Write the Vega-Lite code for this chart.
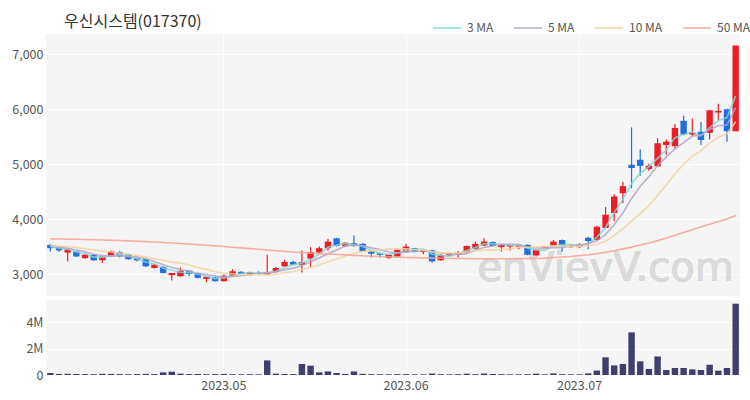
{
  "$schema": "https://vega.github.io/schema/vega-lite/v6.json",
  "padding": {"left": 0, "right": 10, "top": 13, "bottom": 0},
  "background": "#ffffff",
  "title": {"text": "우신시스템(017370)", "anchor": "start", "frame": "group", "fontSize": 16, "fontWeight": "normal", "color": "#333333", "font": "Noto Sans CJK KR", "offset": 8, "dy": 25, "dx": 18},
  "config": {
    "view": {"fill": "#f5f5f5", "stroke": null},
    "axis": {"labelFont": "Noto Sans CJK KR", "labelFontSize": 12.5, "labelColor": "#555555", "domain": false, "ticks": false, "title": null, "gridColor": "#ffffff", "gridWidth": 1}
  },
  "datasets": {
    "p": [
      {"d":"2023-04-03","o":3530,"h":3540,"l":3410,"c":3470,"v":150000,"m3":3500,"m5":3510,"m10":3520,"m50":3640},
      {"d":"2023-04-04","o":3480,"h":3490,"l":3400,"c":3430,"v":80000,"m3":3470,"m5":3490,"m10":3510,"m50":3638},
      {"d":"2023-04-05","o":3390,"h":3460,"l":3230,"c":3450,"v":90000,"m3":3450,"m5":3470,"m10":3500,"m50":3635},
      {"d":"2023-04-06","o":3410,"h":3420,"l":3310,"c":3320,"v":80000,"m3":3400,"m5":3438,"m10":3480,"m50":3632},
      {"d":"2023-04-07","o":3290,"h":3360,"l":3280,"c":3350,"v":70000,"m3":3373,"m5":3404,"m10":3460,"m50":3628},
      {"d":"2023-04-10","o":3350,"h":3360,"l":3240,"c":3250,"v":60000,"m3":3307,"m5":3360,"m10":3440,"m50":3624},
      {"d":"2023-04-11","o":3250,"h":3330,"l":3200,"c":3320,"v":90000,"m3":3307,"m5":3338,"m10":3420,"m50":3620},
      {"d":"2023-04-12","o":3320,"h":3430,"l":3310,"c":3410,"v":80000,"m3":3327,"m5":3330,"m10":3400,"m50":3615},
      {"d":"2023-04-13","o":3400,"h":3420,"l":3300,"c":3320,"v":70000,"m3":3350,"m5":3330,"m10":3380,"m50":3610},
      {"d":"2023-04-14","o":3360,"h":3370,"l":3260,"c":3270,"v":60000,"m3":3333,"m5":3314,"m10":3359,"m50":3604},
      {"d":"2023-04-17","o":3290,"h":3300,"l":3230,"c":3250,"v":70000,"m3":3280,"m5":3314,"m10":3337,"m50":3598},
      {"d":"2023-04-18","o":3270,"h":3280,"l":3130,"c":3140,"v":80000,"m3":3220,"m5":3278,"m10":3308,"m50":3590},
      {"d":"2023-04-19","o":3110,"h":3180,"l":3100,"c":3170,"v":70000,"m3":3187,"m5":3230,"m10":3280,"m50":3582},
      {"d":"2023-04-20","o":3130,"h":3140,"l":3010,"c":3020,"v":200000,"m3":3110,"m5":3170,"m10":3250,"m50":3574},
      {"d":"2023-04-21","o":2980,"h":3020,"l":2880,"c":3020,"v":250000,"m3":3070,"m5":3120,"m10":3217,"m50":3565},
      {"d":"2023-04-24","o":2960,"h":3120,"l":2950,"c":3060,"v":100000,"m3":3033,"m5":3082,"m10":3198,"m50":3555},
      {"d":"2023-04-25","o":3060,"h":3070,"l":2960,"c":3000,"v":70000,"m3":3027,"m5":3054,"m10":3166,"m50":3545},
      {"d":"2023-04-26","o":3020,"h":3030,"l":2920,"c":2930,"v":80000,"m3":2997,"m5":3006,"m10":3118,"m50":3535},
      {"d":"2023-04-27","o":2910,"h":2950,"l":2850,"c":2950,"v":60000,"m3":2960,"m5":2992,"m10":3081,"m50":3524},
      {"d":"2023-04-28","o":2940,"h":2950,"l":2860,"c":2870,"v":70000,"m3":2917,"m5":2962,"m10":3041,"m50":3512},
      {"d":"2023-05-02","o":2870,"h":2990,"l":2860,"c":2970,"v":80000,"m3":2930,"m5":2944,"m10":3013,"m50":3500},
      {"d":"2023-05-03","o":2970,"h":3090,"l":2960,"c":3050,"v":60000,"m3":2963,"m5":2954,"m10":3004,"m50":3488},
      {"d":"2023-05-04","o":3040,"h":3050,"l":2990,"c":3000,"v":50000,"m3":3007,"m5":2968,"m10":2987,"m50":3476},
      {"d":"2023-05-08","o":2990,"h":3040,"l":2980,"c":3030,"v":60000,"m3":3027,"m5":2984,"m10":2988,"m50":3463},
      {"d":"2023-05-09","o":3020,"h":3050,"l":2990,"c":3010,"v":50000,"m3":3013,"m5":3012,"m10":2987,"m50":3450},
      {"d":"2023-05-10","o":2990,"h":3350,"l":2980,"c":3030,"v":1110000,"m3":3023,"m5":3024,"m10":2984,"m50":3437},
      {"d":"2023-05-11","o":3040,"h":3130,"l":3030,"c":3110,"v":100000,"m3":3050,"m5":3036,"m10":2995,"m50":3424},
      {"d":"2023-05-12","o":3140,"h":3260,"l":3130,"c":3220,"v":80000,"m3":3120,"m5":3080,"m10":3024,"m50":3412},
      {"d":"2023-05-15","o":3220,"h":3240,"l":3160,"c":3170,"v":70000,"m3":3167,"m5":3108,"m10":3046,"m50":3400},
      {"d":"2023-05-16","o":3170,"h":3430,"l":3030,"c":3220,"v":840000,"m3":3203,"m5":3150,"m10":3081,"m50":3390},
      {"d":"2023-05-17","o":3280,"h":3490,"l":3110,"c":3400,"v":710000,"m3":3263,"m5":3224,"m10":3124,"m50":3380},
      {"d":"2023-05-18","o":3390,"h":3500,"l":3380,"c":3470,"v":200000,"m3":3363,"m5":3296,"m10":3166,"m50":3372},
      {"d":"2023-05-19","o":3470,"h":3640,"l":3430,"c":3590,"v":270000,"m3":3487,"m5":3370,"m10":3225,"m50":3364},
      {"d":"2023-05-22","o":3650,"h":3660,"l":3500,"c":3510,"v":150000,"m3":3523,"m5":3438,"m10":3273,"m50":3356},
      {"d":"2023-05-23","o":3510,"h":3580,"l":3500,"c":3570,"v":80000,"m3":3557,"m5":3508,"m10":3329,"m50":3348},
      {"d":"2023-05-24","o":3560,"h":3700,"l":3490,"c":3510,"v":270000,"m3":3530,"m5":3530,"m10":3377,"m50":3340},
      {"d":"2023-05-25","o":3550,"h":3560,"l":3410,"c":3420,"v":90000,"m3":3500,"m5":3520,"m10":3408,"m50":3332},
      {"d":"2023-05-26","o":3410,"h":3420,"l":3300,"c":3370,"v":60000,"m3":3433,"m5":3476,"m10":3423,"m50":3325},
      {"d":"2023-05-30","o":3380,"h":3390,"l":3300,"c":3350,"v":60000,"m3":3380,"m5":3444,"m10":3441,"m50":3318},
      {"d":"2023-05-31","o":3290,"h":3360,"l":3280,"c":3350,"v":50000,"m3":3357,"m5":3400,"m10":3454,"m50":3312},
      {"d":"2023-06-01","o":3320,"h":3450,"l":3310,"c":3440,"v":60000,"m3":3380,"m5":3386,"m10":3458,"m50":3307},
      {"d":"2023-06-02","o":3400,"h":3550,"l":3390,"c":3500,"v":70000,"m3":3430,"m5":3402,"m10":3461,"m50":3302},
      {"d":"2023-06-05","o":3470,"h":3480,"l":3390,"c":3410,"v":50000,"m3":3450,"m5":3410,"m10":3443,"m50":3298},
      {"d":"2023-06-07","o":3400,"h":3450,"l":3360,"c":3440,"v":50000,"m3":3450,"m5":3428,"m10":3436,"m50":3294},
      {"d":"2023-06-08","o":3430,"h":3440,"l":3210,"c":3230,"v":110000,"m3":3360,"m5":3404,"m10":3402,"m50":3290},
      {"d":"2023-06-09","o":3250,"h":3360,"l":3240,"c":3350,"v":60000,"m3":3340,"m5":3386,"m10":3386,"m50":3287},
      {"d":"2023-06-12","o":3340,"h":3390,"l":3330,"c":3380,"v":50000,"m3":3320,"m5":3362,"m10":3382,"m50":3284},
      {"d":"2023-06-13","o":3350,"h":3420,"l":3300,"c":3390,"v":60000,"m3":3373,"m5":3358,"m10":3384,"m50":3282},
      {"d":"2023-06-14","o":3390,"h":3520,"l":3380,"c":3510,"v":100000,"m3":3427,"m5":3372,"m10":3400,"m50":3280},
      {"d":"2023-06-15","o":3460,"h":3590,"l":3440,"c":3550,"v":60000,"m3":3483,"m5":3436,"m10":3420,"m50":3279},
      {"d":"2023-06-16","o":3520,"h":3650,"l":3510,"c":3590,"v":110000,"m3":3550,"m5":3484,"m10":3435,"m50":3278},
      {"d":"2023-06-19","o":3580,"h":3590,"l":3500,"c":3510,"v":80000,"m3":3550,"m5":3510,"m10":3436,"m50":3278},
      {"d":"2023-06-20","o":3490,"h":3540,"l":3410,"c":3530,"v":60000,"m3":3543,"m5":3538,"m10":3448,"m50":3278},
      {"d":"2023-06-21","o":3500,"h":3540,"l":3430,"c":3530,"v":50000,"m3":3523,"m5":3542,"m10":3457,"m50":3279},
      {"d":"2023-06-22","o":3500,"h":3540,"l":3450,"c":3530,"v":50000,"m3":3530,"m5":3538,"m10":3487,"m50":3280},
      {"d":"2023-06-23","o":3530,"h":3540,"l":3340,"c":3350,"v":60000,"m3":3470,"m5":3490,"m10":3487,"m50":3282},
      {"d":"2023-06-26","o":3340,"h":3450,"l":3320,"c":3440,"v":100000,"m3":3440,"m5":3476,"m10":3493,"m50":3285},
      {"d":"2023-06-27","o":3480,"h":3510,"l":3470,"c":3500,"v":50000,"m3":3430,"m5":3470,"m10":3504,"m50":3290},
      {"d":"2023-06-28","o":3500,"h":3620,"l":3490,"c":3590,"v":120000,"m3":3510,"m5":3482,"m10":3512,"m50":3300},
      {"d":"2023-06-29","o":3620,"h":3630,"l":3410,"c":3510,"v":60000,"m3":3533,"m5":3478,"m10":3508,"m50":3310},
      {"d":"2023-06-30","o":3490,"h":3540,"l":3480,"c":3510,"v":50000,"m3":3537,"m5":3510,"m10":3500,"m50":3320},
      {"d":"2023-07-03","o":3490,"h":3560,"l":3470,"c":3540,"v":50000,"m3":3520,"m5":3530,"m10":3503,"m50":3335},
      {"d":"2023-07-04","o":3660,"h":3680,"l":3450,"c":3600,"v":120000,"m3":3550,"m5":3550,"m10":3510,"m50":3350},
      {"d":"2023-07-05","o":3620,"h":3880,"l":3610,"c":3860,"v":340000,"m3":3667,"m5":3604,"m10":3543,"m50":3370},
      {"d":"2023-07-06","o":3840,"h":4220,"l":3830,"c":4080,"v":1340000,"m3":3847,"m5":3718,"m10":3598,"m50":3395},
      {"d":"2023-07-07","o":4110,"h":4450,"l":3960,"c":4410,"v":730000,"m3":4117,"m5":3898,"m10":3704,"m50":3425},
      {"d":"2023-07-10","o":4470,"h":4680,"l":4290,"c":4600,"v":840000,"m3":4363,"m5":4110,"m10":3820,"m50":3458},
      {"d":"2023-07-11","o":4990,"h":5670,"l":4560,"c":4930,"v":3240000,"m3":4647,"m5":4376,"m10":3963,"m50":3490},
      {"d":"2023-07-12","o":5080,"h":5270,"l":4790,"c":4970,"v":1040000,"m3":4833,"m5":4598,"m10":4101,"m50":3528},
      {"d":"2023-07-13","o":4910,"h":5010,"l":4880,"c":4970,"v":460000,"m3":4957,"m5":4776,"m10":4247,"m50":3565},
      {"d":"2023-07-14","o":4960,"h":5470,"l":4950,"c":5380,"v":1410000,"m3":5107,"m5":4970,"m10":4434,"m50":3608},
      {"d":"2023-07-17","o":5350,"h":5450,"l":5170,"c":5410,"v":380000,"m3":5253,"m5":5132,"m10":4621,"m50":3655},
      {"d":"2023-07-18","o":5330,"h":5730,"l":5290,"c":5660,"v":530000,"m3":5483,"m5":5278,"m10":4827,"m50":3705},
      {"d":"2023-07-19","o":5790,"h":5880,"l":5530,"c":5540,"v":530000,"m3":5537,"m5":5392,"m10":4995,"m50":3755},
      {"d":"2023-07-20","o":5540,"h":5830,"l":5510,"c":5570,"v":430000,"m3":5590,"m5":5512,"m10":5144,"m50":3805},
      {"d":"2023-07-21","o":5590,"h":5770,"l":5350,"c":5440,"v":380000,"m3":5517,"m5":5524,"m10":5247,"m50":3855},
      {"d":"2023-07-24","o":5570,"h":5990,"l":5450,"c":5980,"v":780000,"m3":5663,"m5":5638,"m10":5385,"m50":3905},
      {"d":"2023-07-25","o":5940,"h":6100,"l":5800,"c":5970,"v":330000,"m3":5797,"m5":5700,"m10":5489,"m50":3955},
      {"d":"2023-07-26","o":6000,"h":6010,"l":5410,"c":5600,"v":530000,"m3":5850,"m5":5712,"m10":5552,"m50":4000},
      {"d":"2023-07-27","o":5600,"h":7160,"l":5600,"c":7160,"v":5420000,"m3":6243,"m5":6030,"m10":5771,"m50":4065}
    ]
  },
  "spacing": 4,
  "vconcat": [
    {
      "width": 694,
      "height": 262,
      "data": {"name": "p"},
      "encoding": {
        "x": {"field": "d", "type": "ordinal", "sort": "ascending",
          "scale": {"paddingInner": 0, "paddingOuter": 0},
          "axis": {"values": ["2023-05-02", "2023-06-02", "2023-07-03"], "labels": false, "grid": true, "bandPosition": 0.5}}
      },
      "layer": [
        {
          "mark": {"type": "text", "fontSize": 40, "font": "DejaVu Sans", "color": "#dadada", "align": "center", "baseline": "middle"},
          "encoding": {
            "x": {"datum": "2023-07-06"},
            "y": {"datum": 3100, "type": "quantitative"},
            "text": {"value": "enVievV.com"}
          }
        },
        {
          "mark": {"type": "rule", "strokeWidth": 1.2},
          "encoding": {
            "y": {"field": "l", "type": "quantitative", "scale": {"domain": [2600, 7370], "zero": false, "nice": false},
              "axis": {"values": [3000, 4000, 5000, 6000, 7000], "labelExpr": "format(datum.value, ',')", "grid": true, "labelPadding": 3, "minExtent": 46, "maxExtent": 46}},
            "y2": {"field": "h"},
            "color": {"condition": {"test": "datum.c >= datum.o", "value": "#ee1c25"}, "value": "#1f6fe0"}
          }
        },
        {
          "mark": {"type": "bar", "width": {"band": 0.74}},
          "encoding": {
            "y": {"field": "o", "type": "quantitative"},
            "y2": {"field": "c"},
            "color": {"condition": {"test": "datum.c >= datum.o", "value": "#ee1c25"}, "value": "#1f6fe0"}
          }
        },
        {
          "transform": [{"fold": ["m3", "m5", "m10", "m50"], "as": ["k", "val"]}],
          "mark": {"type": "line", "strokeWidth": 1.6, "opacity": 0.85},
          "encoding": {
            "y": {"field": "val", "type": "quantitative"},
            "color": {"field": "k", "type": "nominal",
              "scale": {"domain": ["m3", "m5", "m10", "m50"], "range": ["#7fd7cf", "#b3a3c8", "#f3d49e", "#f6a394"]},
              "legend": {"title": null, "orient": "none", "legendX": 386, "legendY": -21, "direction": "horizontal",
                "symbolType": "stroke", "symbolSize": 800, "symbolStrokeWidth": 1.6, "labelFont": "Noto Sans CJK KR", "labelFontSize": 12, "labelColor": "#555555", "columnPadding": 16, "labelOffset": 5,
                "labelExpr": "datum.label == 'm3' ? '3 MA' : datum.label == 'm5' ? '5 MA' : datum.label == 'm10' ? '10 MA' : '50 MA'"}}
          }
        }
      ]
    },
    {
      "width": 694,
      "height": 75,
      "data": {"name": "p"},
      "mark": {"type": "bar", "width": {"band": 0.74}, "color": "#3f3f6e"},
      "encoding": {
        "x": {"field": "d", "type": "ordinal", "sort": "ascending",
          "scale": {"paddingInner": 0, "paddingOuter": 0},
          "axis": {"values": ["2023-05-02", "2023-06-02", "2023-07-03"], "grid": true, "bandPosition": 0.5, "labelAngle": 0, "labelPadding": 4,
            "labelExpr": "replace(slice(datum.value, 0, 7), '-', '.')"}},
        "y": {"field": "v", "type": "quantitative", "scale": {"domain": [0, 5700000], "nice": false},
          "axis": {"values": [0, 2000000, 4000000], "grid": true, "labelPadding": 3, "minExtent": 46, "maxExtent": 46,
            "labelExpr": "datum.value == 0 ? '0' : (datum.value / 1000000) + 'M'"}}
      }
    }
  ]
}
